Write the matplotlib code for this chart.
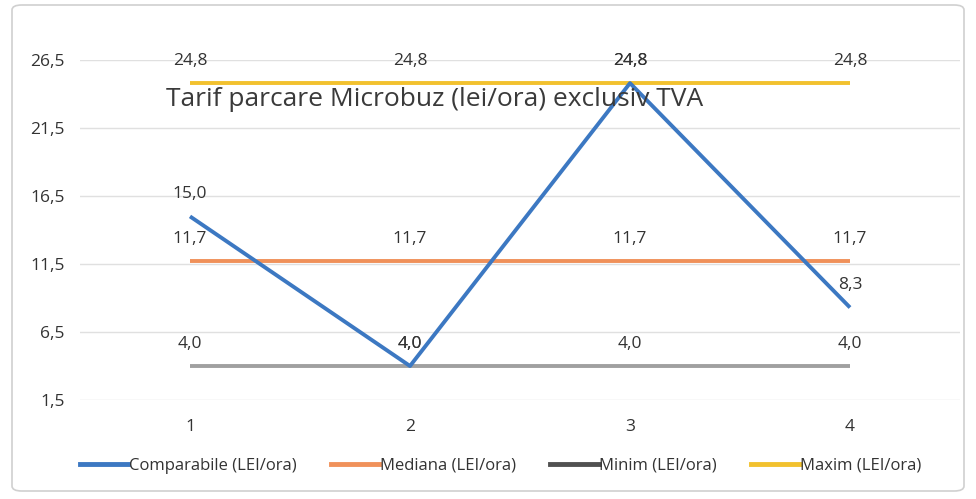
import matplotlib
matplotlib.use("Agg")
import matplotlib.pyplot as plt
from matplotlib.patches import FancyBboxPatch

categories = ["1", "2", "3", "4"]
comparabile = [15.0, 4.0, 24.8, 8.3]
mediana = [11.7, 11.7, 11.7, 11.7]
minim = [4.0, 4.0, 4.0, 4.0]
maxim = [24.8, 24.8, 24.8, 24.8]
series_names = ["Comparabile (LEI/ora)", "Mediana (LEI/ora)", "Minim (LEI/ora)", "Maxim (LEI/ora)"]
yticks = [1.5, 6.5, 11.5, 16.5, 21.5, 26.5]
title = "Tarif parcare Microbuz (lei/ora) exclusiv TVA"

colors = ["#3C78C2", "#F0915A", "#A0A0A0", "#F2C12E"]
legend_colors = ["#3C78C2", "#F0915A", "#505050", "#F2C12E"]
txt = "#333333"

plt.rcParams['font.family'] = ['Open Sans', 'DejaVu Sans']

fig = plt.figure(figsize=(9.76, 4.99), dpi=100)
fig.patch.set_facecolor("white")
border = FancyBboxPatch((12/976, 8/499), 952/976, 486/499,
                        boxstyle="round,pad=0,rounding_size=0.01",
                        transform=fig.transFigure, fill=False,
                        edgecolor="#D0D0D0", linewidth=1.2)
fig.patches.append(border)

ax = fig.add_axes([80/976, 1-400/499, 880/976, 340/499])
x = list(range(1, len(categories) + 1))

data = [comparabile, mediana, minim, maxim]
order = [2, 1, 3, 0]  # draw order
for i in order:
    ax.plot(x, data[i], color=colors[i], lw=2.8, solid_capstyle="butt", zorder=3)

for i in range(4):
    for xi, v in zip(x, data[i]):
        ax.annotate(f"{v:.1f}".replace(".", ","), (xi, v), xytext=(0, 16),
                    textcoords="offset points", ha="center", va="center",
                    fontsize=12.5, color=txt, zorder=5)

ax.set_xlim(0.5, 4.5)
ax.set_ylim(1.5, 26.5)
ax.set_yticks(yticks)
ax.set_yticklabels([f"{t:.1f}".replace(".", ",") for t in yticks])
ax.set_xticks(x)
ax.set_xticklabels(categories)
ax.grid(axis="y", color="#E0E0E0", lw=1)
ax.set_axisbelow(True)
for s in ax.spines.values():
    s.set_visible(False)
ax.tick_params(length=0, labelsize=12.5, labelcolor=txt)
ax.tick_params(axis="y", pad=11)
ax.tick_params(axis="x", pad=14)

fig.text(435/976, 1-100/499, title, ha="center", va="center", fontsize=19,
         color="#3A3A3A", zorder=10)

handles = [plt.Line2D([0], [0], color=legend_colors[i], lw=3.5) for i in range(4)]
fig.legend(handles, series_names, loc="center left", bbox_to_anchor=(80/976, 1-466/499),
           ncol=4, frameon=False, fontsize=12, handlelength=2.9, handletextpad=0.05,
           columnspacing=2.05, labelcolor=txt, borderaxespad=0, borderpad=0)

fig.savefig("out.png", dpi=100, facecolor="white")
